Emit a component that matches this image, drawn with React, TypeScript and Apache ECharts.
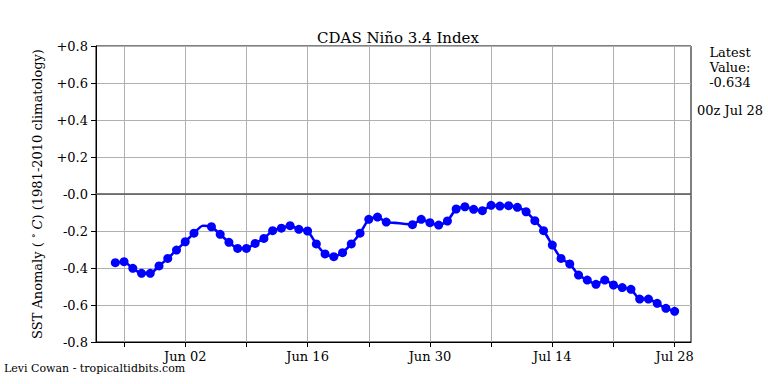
import React, { useEffect, useRef } from "react";
import * as echarts from "echarts";

// Days counted from May 25 (day 0) to Jul 28 (day 64)
const anomaly: number[] = [
  -0.371, -0.366, -0.402, -0.429, -0.429, -0.389, -0.348, -0.303, -0.258, -0.212,
  -0.172, -0.177, -0.218, -0.261, -0.294, -0.294, -0.267, -0.240, -0.198, -0.185,
  -0.171, -0.191, -0.200, -0.270, -0.324, -0.339, -0.317, -0.270, -0.212, -0.137,
  -0.125, -0.152, -0.156, -0.161, -0.166, -0.137, -0.155, -0.168, -0.146, -0.081,
  -0.069, -0.083, -0.090, -0.061, -0.065, -0.063, -0.072, -0.096, -0.144, -0.198,
  -0.276, -0.348, -0.378, -0.438, -0.465, -0.488, -0.465, -0.492, -0.506, -0.515,
  -0.568, -0.568, -0.591, -0.618, -0.634,
];
// Days where the curve has no marker (no observation drawn)
const missingDays: number[] = [10, 32, 33];
const majorTickDays: number[] = [8, 22, 36, 50, 64];
const majorTickLabels: string[] = ["Jun 02", "Jun 16", "Jun 30", "Jul 14", "Jul 28"];
const minorTickDays: number[] = [1, 15, 29, 43, 57];
const latestValue = "-0.634";
const latestTime = "00z Jul 28";

const FONT = "DejaVu Serif";

export default function App() {
  const ref = useRef<HTMLDivElement>(null);
  useEffect(() => {
    if (!ref.current) return;
    document.body.style.margin = "0";
    const chart = echarts.init(ref.current, undefined, { renderer: "svg" });
    const allTicks = [...minorTickDays, ...majorTickDays].sort((a, b) => a - b);
    const data = anomaly.map((v, i) =>
      missingDays.includes(i)
        ? { value: [i, v], symbol: "none" }
        : { value: [i, v] }
    );
    chart.setOption({
      animation: false,
      textStyle: { fontFamily: FONT },
      title: {
        text: "CDAS Niño 3.4 Index",
        left: 393,
        textAlign: "center",
        top: 25,
        textStyle: { fontFamily: FONT, fontSize: 15, fontWeight: "normal", color: "#000" },
      },
      grid: {
        left: 96,
        right: 77,
        top: 46,
        bottom: 42,
        show: true,
        borderColor: "#000",
        borderWidth: 1,
        backgroundColor: "transparent",
      },
      xAxis: {
        type: "value",
        min: -2.21,
        max: 65.87,
        axisLine: { show: true, onZero: false, lineStyle: { color: "#000", width: 1 } },
        axisTick: {
          show: true,
          length: 5,
          inside: false,
          customValues: allTicks,
          lineStyle: { color: "#000", width: 1 },
        },
        axisLabel: {
          customValues: majorTickDays,
          formatter: (v: number) => {
            const i = majorTickDays.indexOf(Math.round(v));
            return i >= 0 ? majorTickLabels[i] : "";
          },
          fontFamily: FONT,
          fontSize: 13,
          color: "#000",
          margin: 8,
        },
        splitLine: { show: false },
      },
      yAxis: {
        type: "value",
        min: -0.8,
        max: 0.8,
        interval: 0.2,
        name: "SST Anomaly ( {sup|°} {it|C}) (1981-2010 climatology)",
        nameLocation: "middle",
        nameGap: 52,
        nameTextStyle: {
          fontFamily: FONT,
          fontSize: 13,
          color: "#000",
          rich: {
            sup: { fontFamily: FONT, fontSize: 9, color: "#000", verticalAlign: "top" },
            it: { fontFamily: FONT, fontSize: 13, fontStyle: "italic", color: "#000" },
          },
        },
        axisLine: { show: true, onZero: false, lineStyle: { color: "#000", width: 1 } },
        axisTick: { show: true, length: 5, inside: false, lineStyle: { color: "#000" } },
        axisLabel: {
          fontFamily: FONT,
          fontSize: 13,
          color: "#000",
          margin: 8,
          formatter: (v: number) => {
            if (Math.abs(v) < 1e-9) return "-0.0";
            return v > 0 ? "+" + v.toFixed(1) : v.toFixed(1);
          },
        },
        splitLine: { show: true, lineStyle: { color: "#b0b0b0", width: 1 } },
      },
      graphic: [
        {
          type: "text",
          x: 730,
          y: 45,
          style: {
            text: "Latest\nValue:\n" + latestValue,
            fontFamily: FONT,
            fontSize: 13,
            lineHeight: 15,
            fill: "#000",
            textAlign: "center",
            textVerticalAlign: "top",
          },
        },
        {
          type: "text",
          x: 730,
          y: 104,
          style: {
            text: latestTime,
            fontFamily: FONT,
            fontSize: 13,
            fill: "#000",
            textAlign: "center",
            textVerticalAlign: "top",
          },
        },
        {
          type: "text",
          x: 4,
          y: 363,
          style: {
            text: "Levi Cowan - tropicaltidbits.com",
            fontFamily: FONT,
            fontSize: 11,
            fill: "#000",
            textVerticalAlign: "top",
          },
        },
      ],
      series: [
        {
          type: "line",
          data: [],
          z: 1,
          silent: true,
          markLine: {
            silent: true,
            symbol: ["none", "none"],
            label: { show: false },
            animation: false,
            data: [
              ...allTicks.map((d) => ({
                xAxis: d,
                lineStyle: { color: "#b0b0b0", width: 1, type: "solid" },
              })),
              { yAxis: 0, lineStyle: { color: "#555", width: 1.6, type: "solid" } },
            ],
          },
        },
        {
          type: "line",
          z: 5,
          data,
          smooth: 0.2,
          symbol: "circle",
          symbolSize: 9,
          showAllSymbol: true,
          lineStyle: { color: "#0000ff", width: 2.6 },
          itemStyle: { color: "#0000ff" },
        },
      ],
    });
    return () => chart.dispose();
  }, []);
  return <div ref={ref} style={{ width: 768, height: 384 }} />;
}
